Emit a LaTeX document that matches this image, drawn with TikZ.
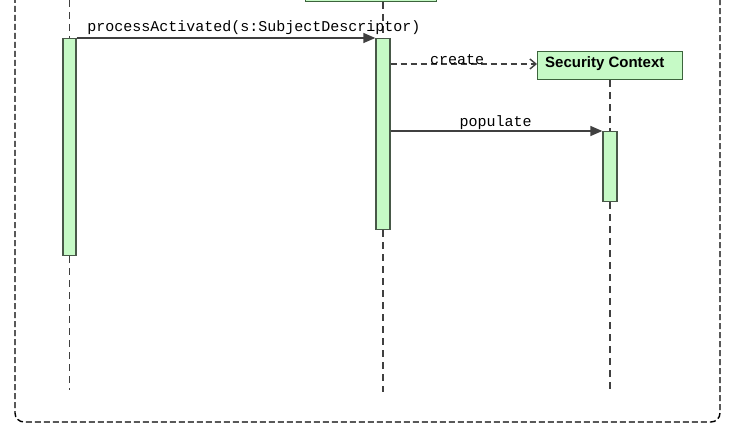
\documentclass[tikz,border=0pt]{standalone}
\usepackage{fontspec}
\setmainfont{Liberation Sans}
\newfontfamily\monofont{Liberation Mono}
\usetikzlibrary{arrows.meta}
\definecolor{actfill}{RGB}{198,250,198}
\definecolor{actdraw}{RGB}{72,88,72}
\definecolor{boxdraw}{RGB}{60,100,60}
\definecolor{linecol}{RGB}{64,64,64}
\begin{document}
\begin{tikzpicture}[x=1pt,y=-1pt,
  act/.style={draw=actdraw,fill=actfill,line width=1.4pt},
  objbox/.style={draw=boxdraw,fill=actfill,line width=1.4pt},
  lifeline/.style={draw=linecol,line width=1.3pt,dash pattern=on 7pt off 5pt},
  msg/.style={draw=linecol,line width=1.5pt,-{Triangle[length=12pt,width=10pt]}},
  creat/.style={draw=linecol,line width=1.4pt,dash pattern=on 6pt off 4pt,-{Straight Barb[length=6pt,width=10pt]}},
  mlabel/.style={font=\monofont\fontsize{15}{17}\selectfont,text=black,inner sep=0pt,anchor=base}
]
\useasboundingbox (0,0) rectangle (735,438);
\fill[white] (0,0) rectangle (735,438);
\begin{scope}
\clip (0,0) rectangle (735,438);
% outer frame
\draw[black,line width=1.4pt,dash pattern=on 6pt off 3pt,rounded corners=9pt] (15,-30) -- (15,422) -- (720,422) -- (720,-30);
% top object box (cut off)
\node[objbox,minimum width=131pt,minimum height=30pt,anchor=south west,inner sep=0pt] (topobj) at (305,2) {};
\end{scope}
% lifelines
\coordinate (l1top) at (69.5,0);
\coordinate (l1bot) at (69.5,390);
\coordinate (l2bot) at (383,392);
\coordinate (l3bot) at (610,392);
% activations
\node[act,minimum width=13pt,minimum height=217pt,inner sep=0pt,anchor=north] (a1) at (69.5,38) {};
\node[act,minimum width=14pt,minimum height=191pt,inner sep=0pt,anchor=north] (a2) at (383,38) {};
\node[act,minimum width=14pt,minimum height=70pt,inner sep=0pt,anchor=north] (a3) at (610,131) {};
% security context
\node[objbox,minimum width=145pt,minimum height=28pt,anchor=north west,inner sep=0pt] (sc) at (537,51) {};
\node[font=\bfseries\fontsize{15}{17}\selectfont,anchor=west,inner sep=0pt] (sclabel) at (545,63.5) {Security Context};
% lifeline segments
\draw[lifeline] (l1top) -- (a1.north);
\draw[lifeline] (a1.south) -- (l1bot);
\draw[lifeline] (a2.north |- topobj.south) -- (a2.north);
\draw[lifeline] (a2.south) -- (l2bot);
\draw[lifeline] (sc.south -| a3.north) -- (a3.north);
\draw[lifeline] (a3.south) -- (l3bot);
% messages
\draw[msg] (a1.north east) -- (a2.north west);
\node[mlabel] (m1) at (254,32) {processActivated(s:SubjectDescriptor)};
\draw[creat] (a2.east |- 0,64) -- (sc.west |- 0,64);
\node[mlabel] (m2) at (457,64.5) {create};
\draw[msg] (a2.east |- a3.north) -- (a3.north west);
\node[mlabel] (m3) at (495.5,126.5) {populate};
\end{tikzpicture}
\end{document}
